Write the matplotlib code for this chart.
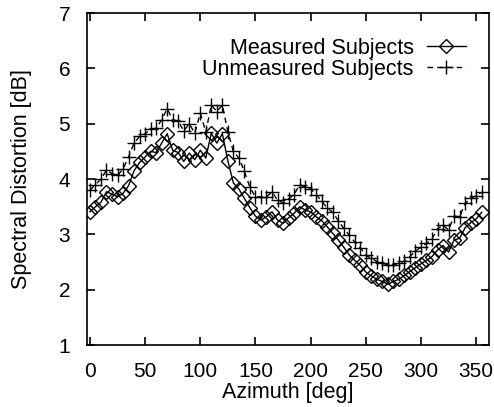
import numpy as np
import matplotlib
matplotlib.use("Agg")
import matplotlib.pyplot as plt

plt.rcParams['font.family'] = ['Liberation Sans', 'DejaVu Sans']

# azimuth in degrees, 5 degree steps
azimuth = np.arange(0, 360, 5)

measured = [3.41, 3.50, 3.58, 3.77, 3.73, 3.68, 3.74, 3.88, 4.15, 4.30,
            4.40, 4.50, 4.48, 4.65, 4.82, 4.52, 4.48, 4.32, 4.47, 4.35,
            4.52, 4.38, 4.83, 4.65, 4.82, 4.33, 3.93, 3.82, 3.65, 3.48,
            3.33, 3.26, 3.32, 3.41, 3.26, 3.20, 3.30, 3.38, 3.50, 3.44,
            3.41, 3.32, 3.25, 3.14, 3.02, 2.90, 2.77, 2.63, 2.53, 2.44,
            2.32, 2.25, 2.19, 2.15, 2.10, 2.15, 2.19, 2.26, 2.33, 2.40,
            2.47, 2.53, 2.60, 2.72, 2.80, 2.68, 2.90, 2.93, 3.12, 3.21,
            3.28, 3.40]

unmeasured = [3.80, 3.90, 4.00, 4.16, 4.10, 4.07, 4.18, 4.40, 4.65, 4.77,
              4.82, 4.90, 4.92, 5.07, 5.27, 5.07, 5.05, 4.87, 5.00, 4.83,
              5.19, 4.85, 5.34, 5.22, 5.34, 4.85, 4.50, 4.38, 4.14, 3.85,
              3.68, 3.68, 3.68, 3.77, 3.62, 3.57, 3.64, 3.72, 3.90, 3.86,
              3.82, 3.72, 3.60, 3.48, 3.40, 3.25, 3.11, 2.99, 2.86, 2.76,
              2.62, 2.57, 2.51, 2.48, 2.45, 2.45, 2.48, 2.52, 2.60, 2.70,
              2.77, 2.84, 2.92, 3.10, 3.17, 3.08, 3.33, 3.32, 3.56, 3.65,
              3.70, 3.76]

xticks = [0, 50, 100, 150, 200, 250, 300, 350]
yticks = [1, 2, 3, 4, 5, 6, 7]

fig = plt.figure(figsize=(4.94, 4.07), dpi=100)
ax = fig.add_axes([0.176, 0.152, 0.814, 0.816])

ax.plot(azimuth, measured, color='black', lw=1, marker='D', ms=7,
        mfc='none', mew=1, label='Measured Subjects')
ax.plot(azimuth, unmeasured, color='black', lw=1, ls=(0, (4, 3)), marker='+',
        ms=10, mew=1, label='Unmeasured Subjects')

ax.set_xlim(-2.7, 361.7)
ax.set_ylim(1, 7)
ax.set_xticks(xticks)
ax.set_yticks(yticks)
ax.tick_params(direction='in', length=6, width=1.2, labelsize=15,
               top=True, right=True)
ax.tick_params(axis='x', pad=12)
ax.tick_params(axis='y', pad=12)
for s in ax.spines.values():
    s.set_linewidth(1.2)

ax.set_xlabel('Azimuth [deg]', fontsize=15.5, labelpad=1)
ax.set_ylabel('Spectral Distortion [dB]', fontsize=15.5, labelpad=19)

ax.legend(loc='upper right', frameon=False, markerfirst=False, fontsize=15.5,
          handlelength=1.85, handletextpad=0.6, labelspacing=0.0,
          borderaxespad=0.0, bbox_to_anchor=(0.965, 0.952))

fig.savefig('out.png', dpi=100)
